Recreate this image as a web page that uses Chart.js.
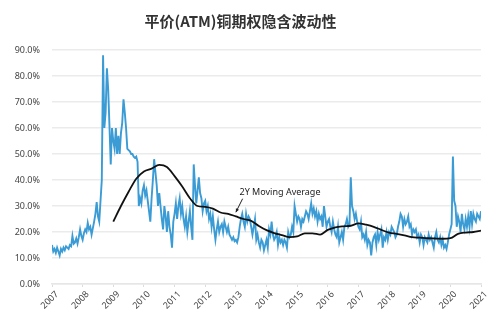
<!DOCTYPE html>
<html>
<head>
<meta charset="utf-8">
<script src="https://cdn.jsdelivr.net/npm/chart.js@4.4.1/dist/chart.umd.min.js"></script>
<style>
  html, body { margin: 0; padding: 0; background: #fff; }
  #wrap { width: 500px; height: 328px; }
</style>
</head>
<body>
<div id="wrap"><canvas id="volChart"></canvas></div>
<script>
// semi-monthly ATM implied vol (%), starting 2007.0, step 1/24 year
const startYear = 2007;
const stepsPerYear = 24;
const impliedVol = [
  // 2007
  15, 12.5, 13.5, 12, 14, 12.5, 11, 13.5, 12.5, 14, 13, 14.5, 14, 13.5, 15, 14.5, 18.5, 15.5, 16, 17.5, 15.5, 18, 21, 18.5,
  // 2008
  17, 19.5, 21, 20, 23.5, 21, 22, 19, 21.5, 24, 27, 31.5, 26, 24, 32, 40, 88, 60, 66, 83, 75, 61, 46, 60,
  // 2009
  55, 52, 60, 50, 57, 50, 58, 62, 71, 66, 60, 52, 51.5, 51, 50, 50, 49, 48.5, 49, 47, 30, 33, 31, 36,
  // 2010
  38, 34, 36, 32, 28, 24, 33, 40, 48, 43, 38, 30, 35, 30, 25, 21, 30, 26, 20, 28, 22, 19, 14, 24,
  // 2011
  27, 31, 25, 30, 33, 27, 30, 25, 22, 26, 20, 24, 28, 22, 17, 46, 38, 31, 36, 41, 35, 33, 28, 31,
  // 2012
  32, 28, 30, 25, 27, 22, 26, 21, 17, 21, 24, 20, 22, 23, 20, 24, 22, 20, 22, 19, 18, 17, 18, 16.5,
  // 2013
  17, 16, 18, 22, 25, 27, 24, 22, 27, 24, 26, 25, 22, 19, 22, 25, 17, 19, 16, 14, 17, 16, 13, 15,
  // 2014
  17, 14, 21, 19, 24, 19, 17, 18, 20, 15, 18, 16, 17, 15, 17, 16, 14, 20, 18, 19, 22, 20, 30, 27,
  // 2015
  24, 26, 25, 22, 25, 24, 26, 28, 27, 25, 28, 31, 27, 29, 26, 28, 24, 27, 25, 26, 22, 30, 26, 22,
  // 2016
  24, 25, 22, 20, 24, 21, 19, 18, 22, 16, 18, 20, 17, 22, 23, 25, 22, 23, 41, 30, 28, 25, 27, 24,
  // 2017
  22, 21, 24, 18, 19, 17, 20, 15, 17, 16, 11, 16, 18, 19, 15, 20, 17, 19, 21, 14, 18, 17, 20, 17,
  // 2018
  20, 19, 22, 21, 20, 18, 19, 22, 24, 27, 26, 22, 25, 23, 24, 26, 22, 23, 19, 21, 20, 21, 18, 19,
  // 2019
  16, 19, 18, 15, 18, 17, 16, 19, 17, 18, 16, 14, 18, 20, 17, 16, 18, 15, 17, 14, 15, 13.5, 16, 19,
  // 2020
  21, 23, 49, 32, 30, 22, 26, 24, 20, 27, 23, 21, 25, 22, 26, 22, 28, 23, 27, 25, 24, 27, 26, 25,
  // 2021
  28
];

// 2Y moving average, quarterly from 2009.0
const maStartYear = 2009;
const maStepsPerYear = 4;
const movingAvg = [
  24, 30, 35.5, 40.5,
  43.3, 44.4, 45.8, 45,
  41.5, 37.5, 33, 30,
  29.7, 29, 27.5, 27,
  26, 25, 24.3, 22.3,
  20.7, 19.6, 18.8, 18,
  18.3, 19.5, 19.5, 19,
  20.8, 21.8, 22.2, 22.4,
  23.3, 22.8, 22, 20.8,
  19.8, 19.3, 18.7, 18,
  17.8, 17.6, 17.5, 17.4,
  17.6, 19.3, 19.8, 20,
  20.5
];

const yearTicks = [2007, 2021];
const yTicks = [0, 90];

const titleText = '平价(ATM)铜期权隐含波动性';
const maLabel = '2Y Moving Average';
const maLabelAt = { x: 2013.12, y: 35.4 };
const maArrowFrom = { x: 2013.22, y: 32.8 };
const maArrowTo = { x: 2013.0, y: 27.6 };

const volPoints = impliedVol.map((v, i) => ({ x: startYear + i / stepsPerYear, y: v }));
const maPoints = movingAvg.map((v, i) => ({ x: maStartYear + i / maStepsPerYear, y: v }));

const annotationPlugin = {
  id: 'maNote',
  afterDatasetsDraw(chart) {
    const { ctx, scales } = chart;
    const xs = scales.x, ys = scales.y;
    ctx.save();
    ctx.fillStyle = '#222';
    ctx.font = '9px "Noto Sans", sans-serif';
    ctx.textBaseline = 'middle';
    ctx.fillText(maLabel, xs.getPixelForValue(maLabelAt.x), ys.getPixelForValue(maLabelAt.y));

    const x1 = xs.getPixelForValue(maArrowFrom.x), y1 = ys.getPixelForValue(maArrowFrom.y);
    const x2 = xs.getPixelForValue(maArrowTo.x), y2 = ys.getPixelForValue(maArrowTo.y);
    ctx.strokeStyle = '#222';
    ctx.lineWidth = 1;
    ctx.beginPath();
    ctx.moveTo(x1, y1);
    ctx.lineTo(x2, y2);
    ctx.stroke();
    const ang = Math.atan2(y2 - y1, x2 - x1);
    ctx.beginPath();
    ctx.moveTo(x2, y2);
    ctx.lineTo(x2 - 4 * Math.cos(ang - 0.45), y2 - 4 * Math.sin(ang - 0.45));
    ctx.lineTo(x2 - 4 * Math.cos(ang + 0.45), y2 - 4 * Math.sin(ang + 0.45));
    ctx.closePath();
    ctx.fillStyle = '#222';
    ctx.fill();
    ctx.restore();
  }
};

const ctx = document.getElementById('volChart').getContext('2d');
new Chart(ctx, {
  type: 'line',
  data: {
    datasets: [
      {
        label: maLabel,
        data: maPoints,
        borderColor: '#111',
        borderWidth: 1.8,
        pointRadius: 0,
        cubicInterpolationMode: 'monotone',
        fill: false
      },
      {
        label: 'ATM Implied Vol',
        data: volPoints,
        borderColor: '#3a9bd5',
        borderWidth: 1.9,
        pointRadius: 0,
        tension: 0,
        fill: false
      }
    ]
  },
  options: {
    responsive: true,
    maintainAspectRatio: false,
    animation: false,
    layout: { padding: { left: 0, right: 19, top: 0, bottom: 0 } },
    plugins: {
      legend: { display: false },
      tooltip: { enabled: false },
      title: {
        display: true,
        text: titleText,
        color: '#333',
        font: { family: '"Noto Sans CJK SC", sans-serif', size: 15, weight: 'bold' },
        padding: { top: 12, bottom: 20 }
      }
    },
    scales: {
      x: {
        type: 'linear',
        min: yearTicks[0],
        max: yearTicks[1],
        afterFit: s => { s.height = 44; },
        grid: { display: true, drawOnChartArea: false, color: '#dcdcdc', tickLength: 3 },
        border: { display: true, color: '#e6e6e6', width: 1.5 },
        ticks: {
          stepSize: 1,
          minRotation: 45,
          maxRotation: 45,
          labelOffset: 5,
          padding: 2,
          color: '#444',
          font: { family: '"Noto Sans", sans-serif', size: 9 },
          callback: v => String(v)
        }
      },
      y: {
        min: yTicks[0],
        max: yTicks[1],
        afterFit: s => { s.width = 52; },
        grid: { color: '#ebebeb', lineWidth: 1.5, drawTicks: false },
        border: { display: false },
        ticks: {
          stepSize: 10,
          padding: 12,
          color: '#444',
          font: { family: '"Noto Sans", sans-serif', size: 9 },
          callback: v => v.toFixed(1) + '%'
        }
      }
    }
  },
  plugins: [annotationPlugin]
});
</script>
</body>
</html>
